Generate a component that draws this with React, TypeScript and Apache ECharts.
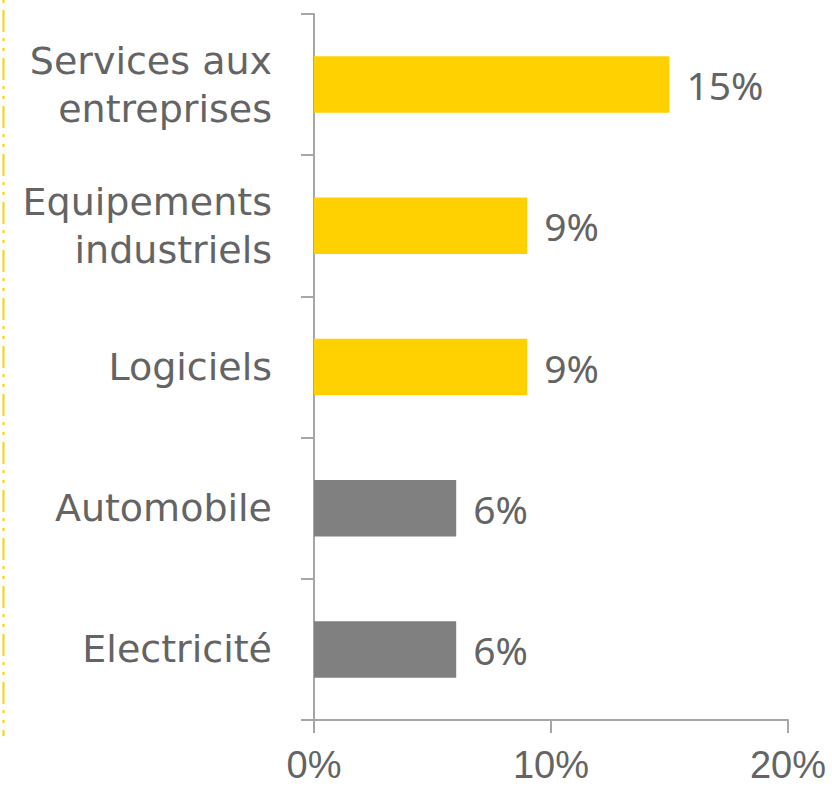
import React, { useEffect, useRef } from "react";
import * as echarts from "echarts";

const categories = ["Services aux\nentreprises", "Equipements\nindustriels", "Logiciels", "Automobile", "Electricité"];
const values = [15, 9, 9, 6, 6];
const barColors = ["#FFD100", "#FFD100", "#FFD100", "#808080", "#808080"];
const xTicks = { min: 0, max: 20, interval: 10 };

export default function App() {
  const ref = useRef<HTMLDivElement>(null);
  useEffect(() => {
    document.body.style.margin = "0";
    const chart = echarts.init(ref.current!, null, { renderer: "svg" });
    const textColor = "#646464";
    const axisColor = "#A6A6A6";
    chart.setOption({
      animation: false,
      backgroundColor: "#ffffff",
      grid: { left: 314, right: 44, top: 14, bottom: 69, containLabel: false },
      xAxis: {
        type: "value",
        min: xTicks.min,
        max: xTicks.max,
        interval: xTicks.interval,
        splitLine: { show: false },
        axisLine: { show: true, lineStyle: { color: axisColor, width: 2 } },
        axisTick: { show: true, length: 13, lineStyle: { color: axisColor, width: 2 } },
        axisLabel: {
          formatter: "{value}%",
          fontSize: 38,
          lineHeight: 32,
          color: textColor,
          fontFamily: "Liberation Sans",
          margin: 29,
        },
      },
      yAxis: {
        type: "category",
        inverse: true,
        data: categories,
        axisLine: { show: true, lineStyle: { color: axisColor, width: 2 } },
        axisTick: { show: true, length: 13, lineStyle: { color: axisColor, width: 2 } },
        axisLabel: {
          fontSize: 38,
          lineHeight: 48,
          color: textColor,
          fontFamily: "DejaVu Sans",
          margin: 42,
          align: "right",
        },
      },
      series: [
        {
          type: "bar",
          data: values.map((v, i) => ({ value: v, itemStyle: { color: barColors[i] } })),
          barWidth: "40%",
          label: {
            show: true,
            position: "right",
            distance: 17,
            formatter: "{c}%",
            fontSize: 39,
            color: textColor,
            fontFamily: "Noto Sans",
          },
        },
      ],
      graphic: [
        {
          type: "line",
          shape: { x1: 3.5, y1: 0, x2: 3.5, y2: 736 },
          style: { stroke: "#FFD100", lineWidth: 2, lineDash: [3, 7, 22, 6, 3, 7] },
        },
      ],
    });
    return () => chart.dispose();
  }, []);
  return <div ref={ref} style={{ width: 832, height: 789 }} />;
}
